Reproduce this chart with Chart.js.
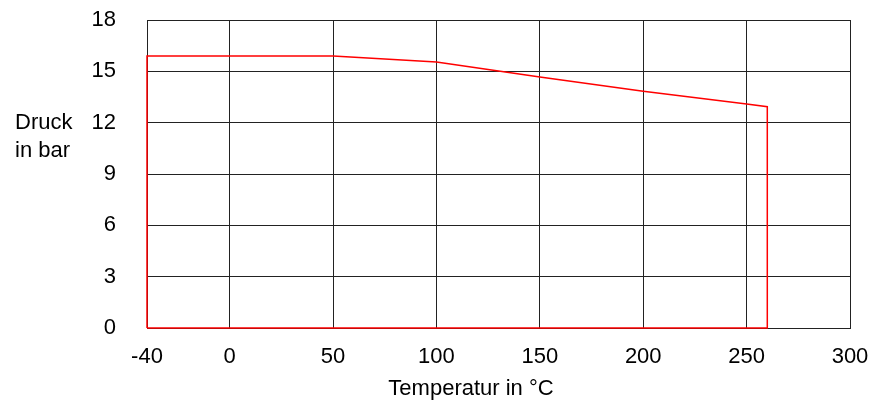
<!DOCTYPE html>
<html>
<head>
<meta charset="utf-8">
<script src="https://cdn.jsdelivr.net/npm/chart.js@4.4.1/dist/chart.umd.min.js"></script>
<style>
html,body{margin:0;padding:0;background:#fff;}
#wrap{width:873px;height:401px;position:relative;}
</style>
</head>
<body>
<div id="wrap"><canvas id="c" width="873" height="401"></canvas></div>
<script>
// Outline of the pressure/temperature range (closed polygon)
const temperatures = [-40, -40, 50, 100, 150, 200, 250, 260, 260, -40];
const pressures    = [0, 15.9, 15.9, 15.55, 14.67, 13.83, 13.09, 12.93, 0, 0];
const xTickValues  = [-40, 0, 50, 100, 150, 200, 250, 300];
const yTickValues  = [0, 3, 6, 9, 12, 15, 18];
const xTitle = 'Temperatur in °C';
const yTitleLines = ['Druck', 'in bar'];

const FONT = 'Liberation Sans, Arial, sans-serif';
const FS = 22;
const points = temperatures.map((t, i) => ({x: t, y: pressures[i]}));

const titlesPlugin = {
  id: 'titles',
  afterDraw(chart) {
    const ctx = chart.ctx;
    ctx.save();
    ctx.fillStyle = '#000';
    ctx.font = FS + 'px ' + FONT;
    ctx.textBaseline = 'alphabetic';
    ctx.textAlign = 'left';
    yTitleLines.forEach((s, i) => ctx.fillText(s, 15, 129 + i * 28));
    ctx.textAlign = 'center';
    ctx.fillText(xTitle, 471, 395);
    ctx.restore();
  }
};

function zeroPad(axis) {
  axis.paddingTop = 0; axis.paddingBottom = 0;
  axis.paddingLeft = 0; axis.paddingRight = 0;
}

new Chart(document.getElementById('c'), {
  type: 'line',
  data: {
    datasets: [{
      data: points,
      borderColor: '#ff0000',
      borderWidth: 1.5,
      pointRadius: 0,
      fill: false,
      tension: 0,
      clip: false
    }]
  },
  options: {
    responsive: false,
    animation: false,
    layout: {padding: {top: 20, right: 23, left: 0, bottom: 0}},
    plugins: {legend: {display: false}, tooltip: {enabled: false}},
    scales: {
      x: {
        type: 'linear',
        min: -40, max: 300,
        afterBuildTicks(axis) { axis.ticks = xTickValues.map(v => ({value: v})); },
        afterFit(axis) { axis.height = 73; zeroPad(axis); },
        grid: {color: '#222', lineWidth: 1, drawTicks: false},
        border: {color: '#222', width: 1},
        ticks: {color: '#000', font: {family: FONT, size: FS}, padding: 16, maxRotation: 0, autoSkip: false}
      },
      y: {
        type: 'linear',
        min: 0, max: 18,
        afterBuildTicks(axis) { axis.ticks = yTickValues.map(v => ({value: v})); },
        afterFit(axis) { axis.width = 147; zeroPad(axis); },
        grid: {color: '#222', lineWidth: 1, drawTicks: false},
        border: {color: '#222', width: 1},
        ticks: {color: '#000', font: {family: FONT, size: FS}, padding: 31}
      }
    }
  },
  plugins: [titlesPlugin]
});
</script>
</body>
</html>
